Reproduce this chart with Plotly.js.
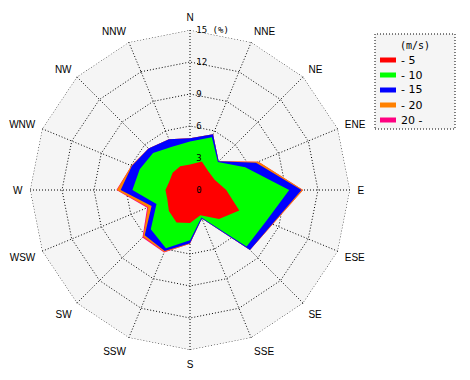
<!DOCTYPE html>
<html><head><meta charset="utf-8">
<script src="https://cdn.plot.ly/plotly-3.0.1.min.js"></script>
<style>html,body{margin:0;padding:0;background:#fff}</style>
</head><body><div id="chart" style="width:470px;height:380px"></div>
<script>
// 16 compass directions
const directions = ['N','NNE','NE','ENE','E','ESE','SE','SSE','S','SSW','SW','WSW','W','WNW','NW','NNW'];
// wind-speed classes (m/s)
const speedBins = ['- 5','- 10','- 15','- 20','20 -'];
const binColors = ['#ff0000','#00ff00','#0000ff','#ff8000','#ff0080'];
// frequency (%) of each speed class per direction
const freqTo5    = [2.4, 2.9, 2.45, 2.5, 3.4, 5.0, 3.85, 2.55, 3.1, 3.3, 2.8, 2.3, 2.3, 2.1, 2.3, 2.4];
const freqTo10   = [2.15, 2.45, 1.25, 3.1, 5.9, 2.7, 3.65, 0.25, 1.6, 2.6, 2.4, 1.1, 3.1, 3.0, 2.6, 2.0];
const freqTo15   = [0.3, 0.3, 0.1, 1.1, 1.15, 0.65, 0.45, 0.1, 0.3, 0.3, 0.8, 0.5, 1.1, 0.8, 0.6, 0.75];
const freqTo20   = [0, 0, 0, 0.25, 0.15, 0.05, 0, 0, 0.05, 0.1, 0.2, 0.35, 0.35, 0.05, 0, 0];
const freqOver20 = [0, 0, 0, 0, 0, 0, 0, 0, 0, 0.05, 0.1, 0.1, 0.05, 0, 0, 0];
const radialMax = 15;
const radialTicks = [0, 3, 6, 9, 12, 15];
const radialTickText = ['0', '3', '6', '9', '12', '15 (%)'];
const legendTitle = '(m/s)';

const bins = [freqTo5, freqTo10, freqTo15, freqTo20, freqOver20];
// stack the classes
const cumulative = [];
let running = directions.map(() => 0);
bins.forEach(b => {
  running = running.map((v, i) => v + b[i]);
  cumulative.push(running.slice());
});

const traces = [];
for (let k = bins.length - 1; k >= 0; k--) {
  traces.push({
    type: 'scatterpolar',
    mode: 'lines',
    r: cumulative[k],
    theta: directions,
    fill: 'toself',
    fillcolor: binColors[k],
    line: {color: binColors[k], width: 0},
    name: speedBins[k],
    showlegend: false,
    hoverinfo: 'skip'
  });
}
// dotted outer frame of the polar area (at the axis maximum)
traces.push({
  type: 'scatterpolar', mode: 'lines',
  r: directions.concat([directions[0]]).map(() => radialMax),
  theta: directions.concat([directions[0]]),
  line: {color: '#000', width: 1, dash: '1px,2px'},
  showlegend: false, hoverinfo: 'skip', cliponaxis: false
});

const W = 470, H = 380;
const px = x => x / W;
const py = y => 1 - y / H;

// legend box drawn as shapes + annotations
const shapes = [{
  type: 'rect', xref: 'paper', yref: 'paper',
  x0: px(375), x1: px(455), y0: py(129), y1: py(34),
  fillcolor: '#f5f5f5',
  line: {color: '#000', width: 1, dash: '1px,2px'}, layer: 'above'
}];
const annotations = [{
  xref: 'paper', yref: 'paper', x: px(415), y: py(45),
  text: legendTitle, showarrow: false, xanchor: 'center', yanchor: 'middle',
  font: {size: 10, family: 'DejaVu Sans Mono, monospace', color: '#000'}
}];
const itemY = [60, 75, 90, 105, 120];
speedBins.forEach((lbl, i) => {
  shapes.push({
    type: 'rect', xref: 'paper', yref: 'paper',
    x0: px(380), x1: px(396), y0: py(itemY[i] + 2.5), y1: py(itemY[i] - 2.5),
    fillcolor: binColors[i], line: {width: 0}, layer: 'above'
  });
  annotations.push({
    xref: 'paper', yref: 'paper', x: px(399), y: py(itemY[i]),
    text: lbl, showarrow: false, xanchor: 'left', yanchor: 'middle',
    font: {size: 11, family: 'DejaVu Sans, sans-serif', color: '#000'}
  });
});

const layout = {
  width: W, height: H,
  margin: {l: 0, r: 0, t: 0, b: 0},
  paper_bgcolor: '#ffffff',
  font: {family: 'Liberation Sans, Arial, sans-serif', color: '#000', size: 10},
  showlegend: false,
  shapes: shapes,
  annotations: annotations,
  polar: {
    domain: {x: [px(30), px(350)], y: [py(350), py(30)]},
    gridshape: 'linear',
    bgcolor: '#f5f5f5',
    radialaxis: {
      range: [0, radialMax], tickvals: radialTicks, ticktext: radialTickText,
      angle: 90, side: 'clockwise', tickangle: 90, showline: false,
      ticks: 'outside', ticklen: 4, tickcolor: 'rgba(0,0,0,0)',
      gridcolor: '#000', griddash: '1px,2px', gridwidth: 1,
      tickfont: {size: 9, family: 'DejaVu Sans Mono, monospace', color: '#000'},
      layer: 'above traces'
    },
    angularaxis: {
      type: 'category', categoryarray: directions,
      rotation: 90, direction: 'clockwise',
      gridcolor: '#000', griddash: '1px,2px', gridwidth: 1,
      showline: false, ticks: 'outside', ticklen: 5, tickcolor: 'rgba(0,0,0,0)',
      tickfont: {size: 10, family: 'Liberation Sans, Arial, sans-serif', color: '#000'},
      layer: 'above traces'
    }
  }
};

Plotly.newPlot('chart', traces, layout, {displayModeBar: false, staticPlot: true});
</script></body></html>
